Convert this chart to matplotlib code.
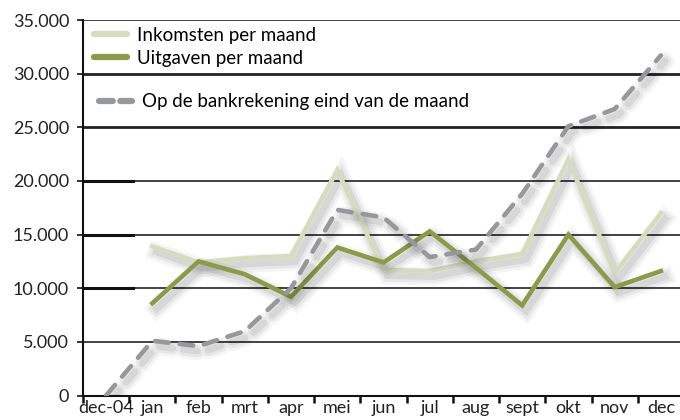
import matplotlib
matplotlib.use("Agg")
import matplotlib.pyplot as plt
import matplotlib.patheffects as pe
from matplotlib.lines import Line2D

categories = ["dec-04", "jan", "feb", "mrt", "apr", "mei", "jun", "jul",
              "aug", "sept", "okt", "nov", "dec"]
inkomsten = [None, 13900, 12400, 12800, 13000, 21000, 11700, 11600,
             12500, 13200, 22000, 11400, 17000]
uitgaven = [None, 8600, 12500, 11300, 9200, 13800, 12400, 15300,
            11900, 8400, 15000, 10100, 11600]
bank = [0, 5100, 4600, 6000, 10000, 17300, 16600, 12900,
        13600, 18800, 25100, 26700, 31700]
y_ticks = [0, 5000, 10000, 15000, 20000, 25000, 30000, 35000]
y_labels = ["0", "5.000", "10.000", "15.000", "20.000", "25.000", "30.000", "35.000"]

labels = ["Inkomsten per maand", "Uitgaven per maand",
          "Op de bankrekening eind van de maand"]

c_ink = "#d6dcc0"
c_uit = "#8a9b4c"
c_bank = "#97989b"

plt.rcParams['font.family'] = ['Lato', 'DejaVu Sans']

fig = plt.figure(figsize=(6.8, 4.2), dpi=100)
ax = fig.add_axes([83 / 680, (420 - 395.5) / 420, 601 / 680, 375.5 / 420])

def shadow():
    return [pe.SimpleLineShadow(offset=(3, -4), shadow_color="k", alpha=0.04, linewidth=13),
            pe.SimpleLineShadow(offset=(3, -4), shadow_color="k", alpha=0.05, linewidth=9),
            pe.SimpleLineShadow(offset=(3, -4), shadow_color="k", alpha=0.07, linewidth=5),
            pe.Normal()]

x = list(range(len(categories)))
xi = [i for i, v in zip(x, inkomsten) if v is not None]
vi = [v for v in inkomsten if v is not None]
xu = [i for i, v in zip(x, uitgaven) if v is not None]
vu = [v for v in uitgaven if v is not None]

l1, = ax.plot(xi, vi, color=c_ink, lw=3.3, solid_joinstyle="miter",
              path_effects=shadow(), zorder=3)
l2, = ax.plot(xu, vu, color=c_uit, lw=3.3, solid_joinstyle="miter",
              path_effects=shadow(), zorder=4)
l3, = ax.plot(x, bank, color=c_bank, lw=3.3, dashes=(3.0, 2.4),
              dash_capstyle="round", path_effects=shadow(), zorder=5)

for yv in y_ticks:
    lw = 2.0 if yv in (25000, 30000) else 1.2
    ax.axhline(yv, color="#222222", lw=lw, zorder=1)
for yv in (10000, 15000, 20000):
    ax.axhline(yv, xmax=0.083, color="#111111", lw=2.2, zorder=1)

ax.set_xlim(-0.5, 12.5)
ax.set_ylim(0, 35000)
ax.set_yticks(y_ticks)
ax.set_yticklabels(y_labels, fontsize=13, color="#222222")
ax.set_xticks(x)
ax.set_xticklabels(categories, fontsize=13, color="#222222")
ax.set_xticks([i - 0.5 for i in range(len(categories))], minor=True)
ax.tick_params(axis="x", which="major", length=0, pad=3)
ax.tick_params(axis="x", which="minor", length=5, width=1.8, color="#111111", direction="out")
ax.tick_params(axis="y", length=4, width=1.2, color="#111111", pad=6)

for s in ("top", "right"):
    ax.spines[s].set_visible(False)
ax.spines["left"].set_color("#111111")
ax.spines["left"].set_linewidth(1.5)
ax.spines["bottom"].set_color("#111111")
ax.spines["bottom"].set_linewidth(1.5)

h1 = Line2D([], [], color=c_ink, lw=4.5, solid_capstyle="round")
h2 = Line2D([], [], color=c_uit, lw=4.5, solid_capstyle="round")
h3 = Line2D([], [], color=c_bank, lw=4.5, dashes=(2.2, 1.2), dash_capstyle="round")
leg1 = ax.legend([h1, h2], labels[:2], loc="upper left", bbox_to_anchor=(0.008, 1.0),
                 frameon=False, fontsize=13.5, handlelength=1.75, handletextpad=0.55,
                 labelspacing=0.32, borderaxespad=0.15, borderpad=0.2)
ax.add_artist(leg1)
ax.legend([h3], labels[2:], loc="upper left", bbox_to_anchor=(0.008, 0.835),
          frameon=False, fontsize=13.5, handlelength=1.75, handletextpad=0.55,
          borderaxespad=0.4, borderpad=0.2)

fig.savefig("out.png", dpi=100)
